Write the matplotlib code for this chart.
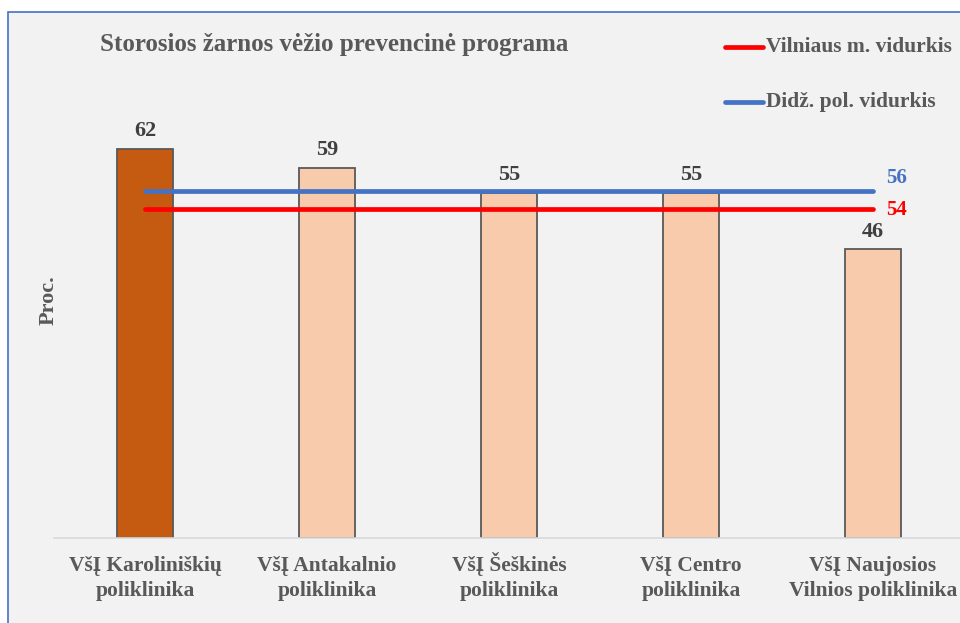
import matplotlib
matplotlib.use("Agg")
import matplotlib.pyplot as plt
from matplotlib.patches import Rectangle
from matplotlib.transforms import blended_transform_factory

categories = ["VšĮ Karoliniškių\npoliklinika", "VšĮ Antakalnio\npoliklinika",
              "VšĮ Šeškinės\npoliklinika", "VšĮ Centro\npoliklinika",
              "VšĮ Naujosios\nVilnios poliklinika"]
values = [62, 59, 55, 55, 46]
vilnius_avg = 54
large_avg = 56
title = "Storosios žarnos vėžio prevencinė programa"
legend_labels = ["Vilniaus m. vidurkis", "Didž. pol. vidurkis"]

W, H = 960, 623
fig = plt.figure(figsize=(W / 100, H / 100), dpi=100, facecolor="white")
plt.rcParams['font.family'] = ['Liberation Serif', 'DejaVu Serif']

# background panel with blue border
bg = Rectangle((8 / W, -0.1), 1.2, (H - 12) / H + 0.1, transform=fig.transFigure,
               facecolor="#F2F2F2", edgecolor="#4472C4", linewidth=1.2, zorder=-10)
fig.patches.append(bg)

base_y = 537.5
px_per_unit = 388.5 / 62
ymax = 70
ax_h = ymax * px_per_unit
left_px, width_px = 54, 910
ax = fig.add_axes([left_px / W, (H - base_y) / H, width_px / W, ax_h / H])
ax.set_facecolor("none")
x = list(range(len(values)))
colors = ["#C55A11"] + ["#F8CBAD"] * (len(values) - 1)
ax.bar(x, values, width=0.31, color=colors, edgecolor="#595959", linewidth=1.3, zorder=2)
ax.set_xlim(-0.5, len(values) - 0.5)
ax.set_ylim(0, ymax)
for xi, v in zip(x, values):
    ax.text(xi, v + 1.2, f"{v}", ha="center", va="bottom", fontsize=16,
            fontweight="bold", color="#404040")
ax.set_yticks([])
ax.set_xticks(x)
ax.set_xticklabels([""] * len(x))
ax.tick_params(axis="x", length=0)
for s in ["top", "right", "left"]:
    ax.spines[s].set_visible(False)
ax.spines["bottom"].set_color("#D9D9D9")
ax.spines["bottom"].set_linewidth(1.2)

# category labels, line by line on fixed baselines
trans = blended_transform_factory(ax.transData, fig.transFigure)
for xi, cat in zip(x, categories):
    for j, line in enumerate(cat.split("\n")):
        ax.text(xi, 1 - (571 + j * 25) / H, line, transform=trans, ha="center",
                va="baseline", fontsize=15.5, fontweight="bold", color="#595959",
                clip_on=False)

fig.text(49 / W, 1 - 300 / H, "Proc.", rotation=90, fontsize=16, fontweight="bold",
         color="#595959", ha="center", va="center")

# secondary axis for average lines
ax2 = ax.twinx()
s_px = 8.85
s_bottom = 56 - (base_y - 191) / s_px
ax2.set_ylim(s_bottom, s_bottom + ax_h / s_px)
ax2.set_yticks([])
for s in ax2.spines.values():
    s.set_visible(False)
ax2.plot([x[0], x[-1]], [vilnius_avg] * 2, color="#FF0000", lw=3.4,
         solid_capstyle="round", zorder=3)
ax2.plot([x[0], x[-1]], [large_avg] * 2, color="#4472C4", lw=3.4,
         solid_capstyle="round", zorder=3)
ax2.text(x[-1] + 0.13, vilnius_avg - 0.2, f"{vilnius_avg}", color="#FF0000", fontsize=15,
         fontweight="bold", va="center", ha="center")
ax2.text(x[-1] + 0.13, large_avg + 1.5, f"{large_avg}", color="#4472C4", fontsize=15,
         fontweight="bold", va="center", ha="center")

# title
fig.text(100 / W, 1 - 45 / H, title, fontsize=18, fontweight="bold", color="#595959",
         va="center", ha="left")

# legend (manual)
for i, (lab, col) in enumerate(zip(legend_labels, ["#FF0000", "#4472C4"])):
    yy = 1 - (47 + i * 55) / H
    fig.add_artist(plt.Line2D([725 / W, 763 / W], [yy, yy], color=col, lw=3.4,
                              solid_capstyle="round", transform=fig.transFigure))
    fig.text(766 / W, yy, lab, fontsize=15.5, fontweight="bold", color="#595959",
             va="center", ha="left")

fig.savefig("out.png", dpi=100, facecolor="white")
